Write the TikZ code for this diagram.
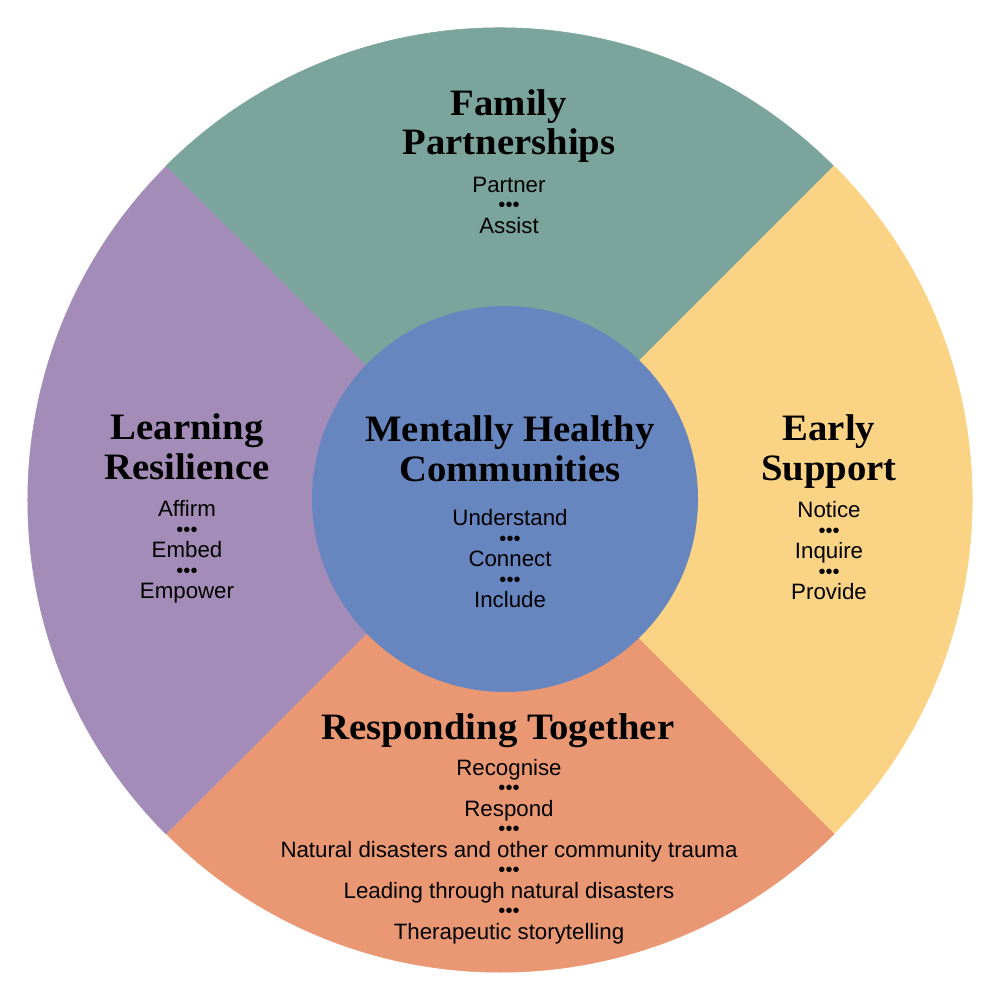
\documentclass[tikz,border=0pt]{standalone}
\usepackage{fontspec}
\setmainfont{Liberation Sans}
\newfontfamily\headfont[FakeStretch=1.04]{Liberation Serif}
\definecolor{familygreen}{HTML}{7BA59C}
\definecolor{supportyellow}{HTML}{FAD385}
\definecolor{respondorange}{HTML}{E99873}
\definecolor{learnpurple}{HTML}{A38CB8}
\definecolor{centreblue}{HTML}{6785BF}
\newcommand{\dotrow}{\raisebox{0.35pt}{\fontsize{5.7pt}{5.83pt}\selectfont •••}}
\tikzset{
	sector/.style={line width=0.15pt},
	heading/.style={align=center,inner sep=0pt,font=\headfont\bfseries\fontsize{10.6pt}{11.3pt}\selectfont},
	items/.style={align=center,inner sep=0pt,font=\fontsize{6.34pt}{5.83pt}\selectfont},
}
\begin{document}
\begin{tikzpicture}
	\useasboundingbox (0,0) rectangle (10,10);
	\begin{scope}
		%\draw[style=help lines] (0,0) grid (10,10);
		\filldraw[sector,familygreen] (5,5) -- (1.66,8.34) arc (135:45:4.72) -- cycle;
		\filldraw[sector,supportyellow] (5,5) -- (8.34,8.34) arc (45:-45:4.72) -- cycle;
		\filldraw[sector,respondorange] (5,5) -- (8.34,1.66) arc (-45:-135:4.72) -- cycle;
		\filldraw[sector,learnpurple] (5,5) -- (1.66,1.66) arc (225:135:4.72) -- cycle;
		\fill[centreblue] (5.05,5.01) circle (1.93);
	\end{scope}
	\begin{scope}
		\node[heading] (family) at (5.09,8.74) {Family\\Partnerships};
		\node[items] (familylist) at (5.09,7.95) {Partner\\\dotrow\\Assist};
		\node[heading] (learning) at (1.87,5.53) {Learning\\Resilience};
		\node[items] (learninglist) at (1.87,4.48) {Affirm\\\dotrow\\Embed\\\dotrow\\Empower};
		\node[heading] (early) at (8.29,5.485) {Early\\Support};
		\node[items] (earlylist) at (8.29,4.49) {Notice\\\dotrow\\Inquire\\\dotrow\\Provide};
		\node[heading] (centre) at (5.1,5.51) {Mentally Healthy\\Communities};
		\node[items] (centrelist) at (5.1,4.41) {Understand\\\dotrow\\Connect\\\dotrow\\Include};
		\node[heading] (responding) at (4.98,2.695) {Responding Together};
		\node[items] (respondinglist) at (5.09,1.485) {Recognise\\\dotrow\\Respond\\\dotrow\\Natural disasters and other community trauma\\\dotrow\\Leading through natural disasters\\\dotrow\\Therapeutic storytelling};
	\end{scope}
\end{tikzpicture}
\end{document}
